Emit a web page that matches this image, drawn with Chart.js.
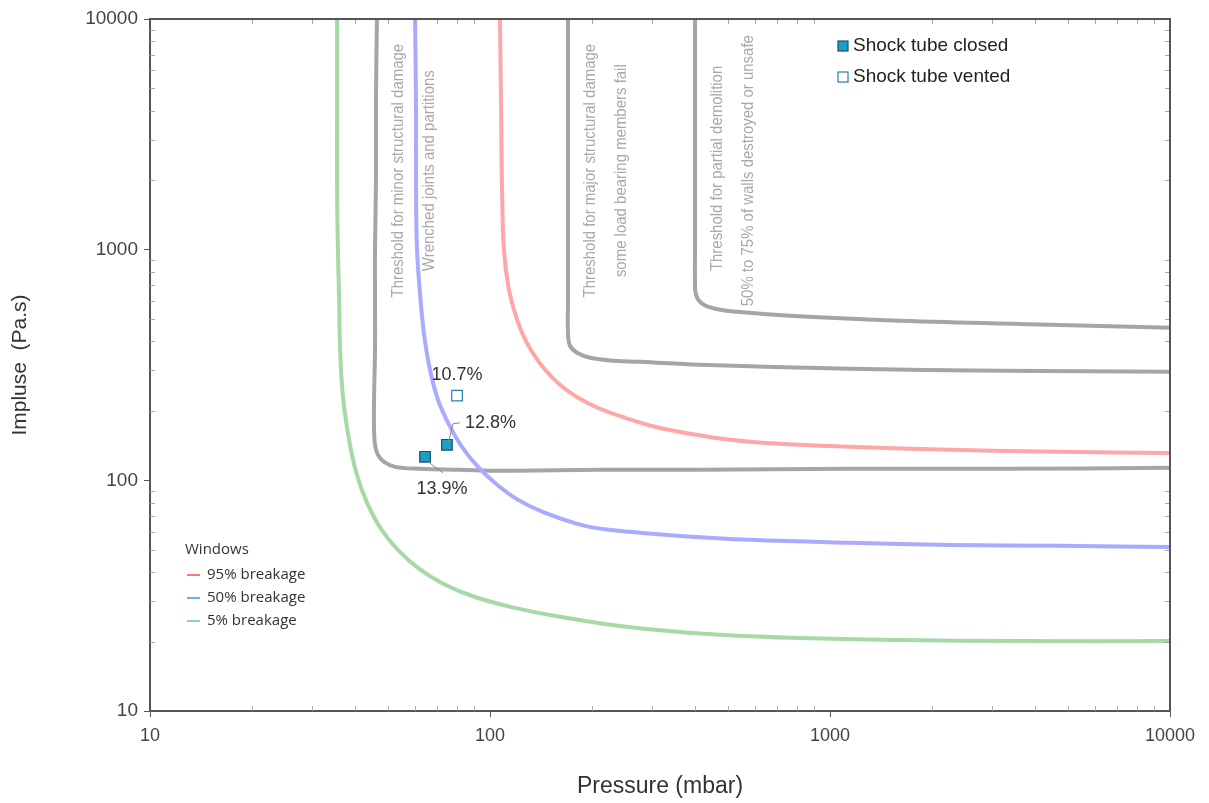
<!DOCTYPE html>
<html>
<head>
<meta charset="utf-8">
<script src="https://cdn.jsdelivr.net/npm/chart.js@4.4.0/dist/chart.umd.min.js"></script>
<style>
  html, body { margin: 0; padding: 0; background: #fff; }
  #wrap { width: 1209px; height: 803px; position: relative; }
</style>
</head>
<body>
<div id="wrap"><canvas id="blastChart"></canvas></div>
<script>
// Window breakage curves: pressure (mbar) and impulse (Pa.s) along each curve
const win95P = [107.0, 107.8, 108.5, 109.9, 113.0, 117.6, 124.2, 132.9, 145.2, 160.6, 181.5, 210.6, 249.5, 305.6, 387.4, 508, 713, 1145, 2254, 4749, 10000];
const win95I = [10000, 4050, 1821, 1000, 705, 549, 436.5, 361, 301.6, 259.7, 228, 204.3, 186.7, 170.7, 159.1, 149.9, 144.0, 139.8, 135.6, 132.9, 131.5];

const win50P = [60.2, 60.6, 60.6, 61.0, 62.3, 64.0, 66.6, 70.3, 75.8, 82.7, 92.2, 104.1, 120.9, 145.2, 190.3, 258.1, 362.1, 581.8, 1145, 2254, 4749, 10000];
const win50I = [10000, 4050, 1821, 1000, 637.9, 427.8, 301.6, 223.5, 174.1, 139.8, 114.4, 96.6, 82.3, 72.3, 63.5, 59.8, 57.4, 55.2, 53.6, 52.5, 52.0, 51.4];

const win5P = [35.5, 35.5, 35.5, 35.7, 36.0, 36.2, 36.9, 38.5, 40.6, 43.5, 47.8, 53.6, 61.4, 72.8, 90.3, 118.4, 160.6, 217.9, 305.6, 474.8, 816, 1606, 3621, 10000];
const win5I = [10000, 4050, 1821, 1000, 607, 387.2, 235, 149.9, 105.7, 79.9, 61.6, 49.9, 41.7, 35.6, 31.2, 28.0, 25.6, 23.85, 22.5, 21.4, 20.7, 20.3, 20.1, 20.1];

// Structural damage thresholds
const minorP = [46.5, 46.2, 46.2, 45.9, 45.9, 45.9, 45.6, 45.6, 45.9, 46.8, 48.8, 52.6, 62.2, 81.6, 107, 210.6, 414.6, 1145, 3162, 10000];
const minorI = [10000, 4475, 2012, 1000, 607, 368, 223.5, 166, 142.6, 129, 120.3, 114.4, 112.2, 111.1, 110.0, 111.1, 111.1, 112.2, 112.2, 113.3];

const majorP = [169.6, 169.6, 169.6, 169.6, 169.6, 169.6, 171.9, 180.3, 197.2, 233, 276, 414.6, 1145, 3162, 10000];
const majorI = [10000, 4475, 2012, 1000, 607, 427.8, 383.3, 357.5, 340, 330, 326.6, 317, 304.6, 298.5, 295.6];

const partialP = [400.9, 400.9, 400.9, 400.9, 400.9, 403.6, 420.3, 459, 533, 762.6, 1606, 4437, 10000];
const partialI = [10000, 4475, 2012, 1000, 741, 637.9, 583.2, 554.6, 538, 517, 492, 473, 459];

// Shock tube measurements
const closedP = [64.4, 74.7];
const closedI = [126.5, 142.6];
const closedLabels = ['13.9%', '12.8%'];
const ventedP = [80];
const ventedI = [233];
const ventedLabels = ['10.7%'];

const majorTicks = [10, 100, 1000, 10000];

const pairs = (xs, ys) => xs.map((x, i) => ({ x: x, y: ys[i] }));

function curve(label, xs, ys, color) {
  return {
    label: label,
    data: pairs(xs, ys),
    showLine: true,
    borderColor: color,
    borderWidth: 4,
    pointRadius: 0,
    tension: 0.4,
    fill: false
  };
}

// rotated gray notes next to the threshold curves
const notes = [
  { text: 'Threshold for minor structural damage', p: 53.6, i: 2200 },
  { text: 'Wrenched joints and partitions', p: 66.2, i: 2200 },
  { text: 'Threshold for major structural damage', p: 197, i: 2200 },
  { text: 'some load bearing members fail', p: 244, i: 2200 },
  { text: 'Threshold for partial demolition', p: 466, i: 2250 },
  { text: '50% to 75% of walls destroyed or unsafe', p: 574, i: 2200 }
];

const frameAndTicks = {
  id: 'frameAndTicks',
  afterDraw(chart) {
    const ctx = chart.ctx;
    const a = chart.chartArea;
    const xs = chart.scales.x, ys = chart.scales.y;
    ctx.save();
    // minor ticks on all four sides, pointing inward
    ctx.strokeStyle = '#a8a8a8';
    ctx.lineWidth = 1;
    ctx.beginPath();
    [10, 100, 1000].forEach(d => {
      for (let m = 2; m <= 9; m++) {
        const px = Math.round(xs.getPixelForValue(m * d)) + 0.5;
        ctx.moveTo(px, a.bottom); ctx.lineTo(px, a.bottom - 5);
        ctx.moveTo(px, a.top); ctx.lineTo(px, a.top + 5);
        const py = Math.round(ys.getPixelForValue(m * d)) + 0.5;
        ctx.moveTo(a.left, py); ctx.lineTo(a.left + 5, py);
        ctx.moveTo(a.right, py); ctx.lineTo(a.right - 5, py);
      }
    });
    ctx.stroke();
    // top and right edges of the frame
    ctx.strokeStyle = '#555';
    ctx.lineWidth = 2;
    ctx.beginPath();
    ctx.moveTo(a.left, a.top);
    ctx.lineTo(a.right, a.top);
    ctx.lineTo(a.right, a.bottom);
    ctx.stroke();
    ctx.restore();
  }
};

const notesPlugin = {
  id: 'notes',
  beforeDatasetsDraw(chart) {
    const ctx = chart.ctx;
    const xs = chart.scales.x, ys = chart.scales.y;
    ctx.save();
    ctx.fillStyle = '#a9a9a9';
    ctx.font = '17px "Liberation Sans", Arial, sans-serif';
    ctx.textAlign = 'center';
    ctx.textBaseline = 'middle';
    notes.forEach(n => {
      ctx.save();
      ctx.translate(xs.getPixelForValue(n.p), ys.getPixelForValue(n.i));
      ctx.rotate(-Math.PI / 2);
      ctx.scale(0.88, 1); // condensed lettering
      ctx.fillText(n.text, 0, 0);
      ctx.restore();
    });
    ctx.restore();
  }
};

const labelsAndLegends = {
  id: 'labelsAndLegends',
  afterDatasetsDraw(chart) {
    const ctx = chart.ctx;
    const a = chart.chartArea;
    ctx.save();

    // value labels next to the shock tube points
    const closed = chart.getDatasetMeta(6).data;
    const vented = chart.getDatasetMeta(7).data;
    ctx.strokeStyle = '#888';
    ctx.lineWidth = 1;
    ctx.beginPath();
    // leader for 12.8%
    ctx.moveTo(closed[1].x + 2, closed[1].y - 4);
    ctx.lineTo(closed[1].x + 6, closed[1].y - 21);
    ctx.lineTo(closed[1].x + 13, closed[1].y - 22);
    // leader for 13.9%
    ctx.moveTo(closed[0].x + 3, closed[0].y + 5);
    ctx.lineTo(closed[0].x + 18, closed[0].y + 16);
    ctx.stroke();

    ctx.fillStyle = '#333';
    ctx.font = '18px "Liberation Sans", Arial, sans-serif';
    ctx.textBaseline = 'middle';
    ctx.textAlign = 'center';
    ctx.fillText(ventedLabels[0], vented[0].x, vented[0].y - 21);
    ctx.fillText(closedLabels[0], closed[0].x + 17, closed[0].y + 32);
    ctx.textAlign = 'left';
    ctx.fillText(closedLabels[1], closed[1].x + 18, closed[1].y - 22);

    // shock tube legend, top right
    const lx = a.left + 693, ly = a.top + 27;
    ctx.lineWidth = 1.2;
    ctx.fillStyle = '#1d9ec4';
    ctx.strokeStyle = '#1f4f6e';
    ctx.fillRect(lx - 5, ly - 5, 10, 10);
    ctx.strokeRect(lx - 5, ly - 5, 10, 10);
    ctx.fillStyle = '#fff';
    ctx.strokeStyle = '#2a7fb0';
    ctx.fillRect(lx - 5, ly + 26, 10, 10);
    ctx.strokeRect(lx - 5, ly + 26, 10, 10);
    ctx.fillStyle = '#222';
    ctx.font = '19px "Liberation Sans", Arial, sans-serif';
    ctx.textAlign = 'left';
    ctx.fillText('Shock tube closed', lx + 10, ly);
    ctx.fillText('Shock tube vented', lx + 10, ly + 31);

    // windows legend, lower left
    const wx = a.left + 35, wy = a.top + 531;
    ctx.font = '15px "Open Sans", "Noto Sans", sans-serif';
    ctx.fillStyle = '#333';
    ctx.fillText('Windows', wx, wy);
    const rows = [['95% breakage', '#ff4a4a'], ['50% breakage', '#4a90d9'], ['5% breakage', '#5fcb8d']];
    rows.forEach((r, k) => {
      const ry = wy + 25 + k * 23;
      ctx.strokeStyle = r[1];
      ctx.lineWidth = 1.5;
      ctx.beginPath();
      ctx.moveTo(wx + 2, ry);
      ctx.lineTo(wx + 15, ry);
      ctx.stroke();
      ctx.fillStyle = '#333';
      ctx.fillText(r[0], wx + 22, ry);
    });
    ctx.restore();
  }
};

const onlyDecades = scale => {
  scale.ticks = majorTicks.map(v => ({ value: v }));
};

new Chart(document.getElementById('blastChart'), {
  type: 'scatter',
  data: {
    datasets: [
      curve('95% breakage', win95P, win95I, '#ffa6a6'),
      curve('50% breakage', win50P, win50I, '#aaaaff'),
      curve('5% breakage', win5P, win5I, '#a6d9a8'),
      curve('Minor structural damage', minorP, minorI, '#a5a5a5'),
      curve('Major structural damage', majorP, majorI, '#a5a5a5'),
      curve('Partial demolition', partialP, partialI, '#a5a5a5'),
      {
        label: 'Shock tube closed',
        data: pairs(closedP, closedI),
        pointStyle: 'rect',
        pointRadius: 7.5,
        backgroundColor: '#1d9ec4',
        borderColor: '#1f4f6e',
        borderWidth: 1.2
      },
      {
        label: 'Shock tube vented',
        data: pairs(ventedP, ventedI),
        pointStyle: 'rect',
        pointRadius: 7.5,
        backgroundColor: '#ffffff',
        borderColor: '#2a7fb0',
        borderWidth: 1.2
      }
    ]
  },
  options: {
    responsive: true,
    maintainAspectRatio: false,
    animation: false,
    layout: { padding: { top: 19, right: 39, left: 0, bottom: 0 } },
    plugins: {
      legend: { display: false },
      tooltip: { enabled: false }
    },
    scales: {
      x: {
        type: 'logarithmic',
        min: 10,
        max: 10000,
        afterBuildTicks: onlyDecades,
        afterFit: s => { s.height = 92; },
        border: { display: true, color: '#555', width: 2 },
        grid: { drawOnChartArea: false, drawTicks: true, tickLength: 6, color: '#555' },
        ticks: {
          autoSkip: false,
          maxRotation: 0,
          padding: 8,
          color: '#444',
          font: { family: '"Liberation Sans", Arial, sans-serif', size: 18 },
          callback: v => String(v)
        },
        title: {
          display: true,
          text: 'Pressure (mbar)',
          color: '#333',
          font: { family: '"Liberation Sans", Arial, sans-serif', size: 23 },
          padding: { top: 0, bottom: 3 }
        }
      },
      y: {
        type: 'logarithmic',
        min: 10,
        max: 10000,
        afterBuildTicks: onlyDecades,
        afterFit: s => { s.width = 150; },
        border: { display: true, color: '#555', width: 2 },
        grid: { drawOnChartArea: false, drawTicks: true, tickLength: 6, color: '#555' },
        ticks: {
          autoSkip: false,
          padding: 6,
          color: '#444',
          font: { family: '"Liberation Sans", Arial, sans-serif', size: 19 },
          callback: v => String(v)
        },
        title: {
          display: true,
          text: 'Impluse  (Pa.s)',
          color: '#333',
          font: { family: '"Liberation Sans", Arial, sans-serif', size: 21 },
          padding: { top: 8, bottom: 0 }
        }
      }
    }
  },
  plugins: [notesPlugin, frameAndTicks, labelsAndLegends]
});
</script>
</body>
</html>
